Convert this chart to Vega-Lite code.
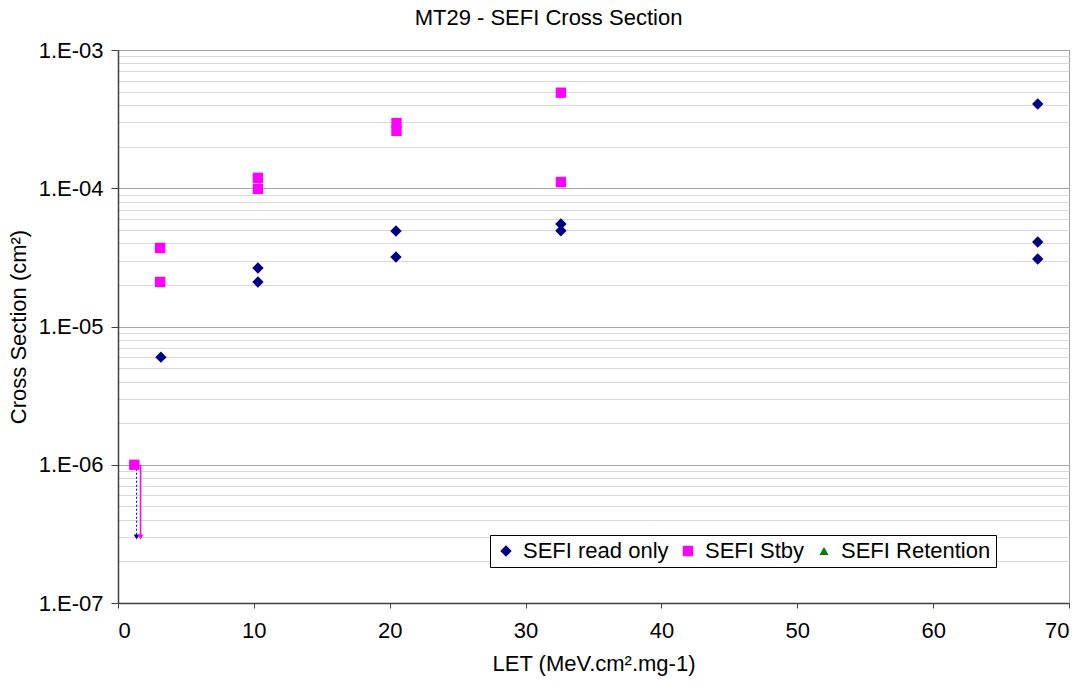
{
  "$schema": "https://vega.github.io/schema/vega-lite/v6.json",
  "autosize": "none",
  "width": 951,
  "height": 553,
  "padding": {"left": 118, "top": 50, "right": 19, "bottom": 85},
  "background": "white",
  "title": {"text": "MT29 - SEFI Cross Section", "fontSize": 22, "fontWeight": "normal", "color": "black", "offset": 9, "dx": -45, "anchor": "middle"},
  "datasets": {
    "points": [
      {"let": 3.16, "cs": 6.0e-6, "series": "SEFI read only"},
      {"let": 10.3, "cs": 2.65e-5, "series": "SEFI read only"},
      {"let": 10.3, "cs": 2.1e-5, "series": "SEFI read only"},
      {"let": 20.46, "cs": 4.91e-5, "series": "SEFI read only"},
      {"let": 20.46, "cs": 3.18e-5, "series": "SEFI read only"},
      {"let": 32.6, "cs": 5.51e-5, "series": "SEFI read only"},
      {"let": 32.6, "cs": 4.93e-5, "series": "SEFI read only"},
      {"let": 67.7, "cs": 4.07e-4, "series": "SEFI read only"},
      {"let": 67.7, "cs": 4.09e-5, "series": "SEFI read only"},
      {"let": 67.7, "cs": 3.08e-5, "series": "SEFI read only"},
      {"let": 1.2, "cs": 1.0e-6, "series": "SEFI Stby"},
      {"let": 3.1, "cs": 3.7e-5, "series": "SEFI Stby"},
      {"let": 3.1, "cs": 2.1e-5, "series": "SEFI Stby"},
      {"let": 10.3, "cs": 1.19e-4, "series": "SEFI Stby"},
      {"let": 10.3, "cs": 9.9e-5, "series": "SEFI Stby"},
      {"let": 20.5, "cs": 2.96e-4, "series": "SEFI Stby"},
      {"let": 20.5, "cs": 2.6e-4, "series": "SEFI Stby"},
      {"let": 32.6, "cs": 4.91e-4, "series": "SEFI Stby"},
      {"let": 32.6, "cs": 1.11e-4, "series": "SEFI Stby"}
    ],
    "arrows": [
      {"let": 1.37, "cs": 1.0e-6, "cs_lo": 3.0e-7, "series": "SEFI read only"},
      {"let": 1.66, "cs": 1.0e-6, "cs_lo": 3.0e-7, "series": "SEFI Stby"}
    ],
    "tips": [
      {"let": 1.37, "cs": 3.0e-7, "series": "SEFI read only"},
      {"let": 1.66, "cs": 3.0e-7, "series": "SEFI Stby"}
    ]
  },
  "encoding": {
    "x": {
      "field": "let", "type": "quantitative",
      "scale": {"domain": [0, 70], "nice": false, "zero": false},
      "axis": {
        "title": "LET (MeV.cm².mg-1)",
        "values": [0, 10, 20, 30, 40, 50, 60, 70],
        "grid": false,
        "tickSize": 5,
        "labelPadding": 12,
        "titlePadding": 12
      }
    },
    "y": {
      "field": "cs", "type": "quantitative",
      "scale": {"type": "log", "domain": [1e-7, 1e-3], "nice": false},
      "axis": {
        "title": "Cross Section (cm²)",
        "values": [1e-7, 2e-7, 3e-7, 4e-7, 5e-7, 6e-7, 7e-7, 8e-7, 9e-7,
                   1e-6, 2e-6, 3e-6, 4e-6, 5e-6, 6e-6, 7e-6, 8e-6, 9e-6,
                   1e-5, 2e-5, 3e-5, 4e-5, 5e-5, 6e-5, 7e-5, 8e-5, 9e-5,
                   1e-4, 2e-4, 3e-4, 4e-4, 5e-4, 6e-4, 7e-4, 8e-4, 9e-4, 1e-3],
        "labelExpr": "abs(log(datum.value)/LN10 - round(log(datum.value)/LN10)) < 0.001 ? '1.E-0' + (-round(log(datum.value)/LN10)) : ''",
        "grid": true,
        "gridColor": {"condition": {"test": "abs(log(datum.value)/LN10 - round(log(datum.value)/LN10)) < 0.001", "value": "#a6a6a6"}, "value": "#d9d9d9"},
        "tickOpacity": {"condition": {"test": "abs(log(datum.value)/LN10 - round(log(datum.value)/LN10)) < 0.001", "value": 1}, "value": 0},
        "tickSize": 7,
        "labelPadding": 8,
        "labelOverlap": false,
        "titlePadding": 8
      }
    }
  },
  "layer": [
    {
      "data": {"name": "arrows"},
      "transform": [{"filter": "datum.series === 'SEFI read only'"}],
      "mark": {"type": "rule", "color": "#000080", "strokeDash": [2, 2], "strokeWidth": 1},
      "encoding": {"y2": {"field": "cs_lo"}}
    },
    {
      "data": {"name": "arrows"},
      "transform": [{"filter": "datum.series === 'SEFI Stby'"}],
      "mark": {"type": "rule", "color": "#FF00FF", "strokeWidth": 1.5},
      "encoding": {"y2": {"field": "cs_lo"}}
    },
    {
      "data": {"name": "tips"},
      "transform": [{"filter": "datum.series === 'SEFI read only'"}],
      "mark": {"type": "point", "shape": "triangle-down", "filled": true, "opacity": 1, "color": "#000080", "size": 35}
    },
    {
      "data": {"name": "tips"},
      "transform": [{"filter": "datum.series === 'SEFI Stby'"}],
      "mark": {"type": "point", "shape": "triangle-down", "filled": true, "opacity": 1, "color": "#FF00FF", "size": 35}
    },
    {
      "data": {"name": "points"},
      "mark": {"type": "point", "filled": true, "opacity": 1},
      "encoding": {
        "size": {
          "field": "series", "type": "nominal",
          "scale": {"domain": ["SEFI read only", "SEFI Stby", "SEFI Retention"], "range": [130, 85, 60]},
          "legend": null
        },
        "color": {
          "field": "series", "type": "nominal",
          "scale": {"domain": ["SEFI read only", "SEFI Stby", "SEFI Retention"], "range": ["#000080", "#FF00FF", "#008000"]},
          "legend": {
            "orient": "none", "legendX": 372, "legendY": 485,
            "direction": "horizontal", "title": null,
            "strokeColor": "black", "fillColor": "white",
            "padding": 5, "labelFontSize": 22, "symbolSize": 45,
            "columnPadding": 8, "labelLimit": 400, "labelColor": "black",
            "symbolStrokeWidth": 0, "labelOffset": 6
          }
        },
        "shape": {
          "field": "series", "type": "nominal",
          "scale": {"domain": ["SEFI read only", "SEFI Stby", "SEFI Retention"], "range": ["diamond", "square", "triangle-up"]},
          "legend": {
            "orient": "none", "legendX": 372, "legendY": 485,
            "direction": "horizontal", "title": null,
            "strokeColor": "black", "fillColor": "white",
            "padding": 5, "labelFontSize": 22, "symbolSize": 45,
            "columnPadding": 8, "labelLimit": 400, "labelColor": "black",
            "symbolStrokeWidth": 0, "labelOffset": 6
          }
        }
      }
    }
  ],
  "config": {
    "font": "Liberation Sans",
    "view": {"stroke": "#a0a0a0"},
    "axis": {
      "labelFont": "Liberation Sans",
      "titleFont": "Liberation Sans",
      "labelFontSize": 22,
      "titleFontSize": 22,
      "titleFontWeight": "normal",
      "labelColor": "black",
      "titleColor": "black",
      "domainColor": "#404040",
      "tickColor": "#404040",
      "domainWidth": 1.5,
      "tickWidth": 1
    },
    "legend": {"labelFont": "Liberation Sans"}
  }
}
